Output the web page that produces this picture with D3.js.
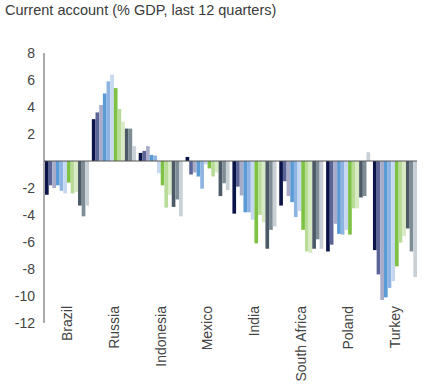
<!DOCTYPE html>
<html>
<head>
<meta charset="utf-8">
<script src="https://cdn.jsdelivr.net/npm/d3@7"></script>
<style>
  body { margin: 0; background: #fff; }
  svg { font-family: "Liberation Sans", Arial, sans-serif; }
</style>
</head>
<body>
<div id="chart"></div>
<script>
// data
const countries = ["Brazil", "Russia", "Indonesia", "Mexico", "India", "South Africa", "Poland", "Turkey"];
const quarters = ["q1", "q2", "q3", "q4", "q5", "q6", "q7", "q8", "q9", "q10", "q11", "q12"];
const brazil = [-2.5, -1.8, -2.0, -1.8, -2.2, -2.4, -1.6, -2.4, -2.3, -3.3, -4.1, -3.3];
const russia = [3.1, 3.6, 4.15, 5.0, 5.9, 6.4, 5.4, 3.85, 2.9, 2.4, 2.4, 1.1];
const indonesia = [0.6, 0.75, 1.1, 0.45, 0.4, -0.9, -1.8, -3.45, -2.5, -3.4, -2.85, -4.1];
const mexico = [0.3, -1.0, -0.85, -1.15, -2.05, -0.25, -0.55, -1.15, -0.85, -2.6, -1.65, -2.15];
const india = [-3.9, -1.9, -2.55, -3.8, -3.8, -4.35, -6.1, -4.0, -4.55, -6.5, -5.1, -4.85];
const southAfrica = [-3.3, -1.5, -2.6, -3.05, -4.15, -3.7, -5.1, -6.7, -6.8, -6.5, -5.8, -6.5];
const poland = [-6.7, -6.2, -4.65, -5.4, -5.45, -5.1, -5.45, -3.5, -3.5, -2.7, -2.6, 0.65];
const turkey = [-6.6, -8.4, -10.3, -10.1, -9.4, -8.9, -7.8, -6.05, -5.55, -5.0, -6.7, -8.6];
const yTicks = [8, 6, 4, 2, -2, -4, -6, -8, -10, -12];
const colors = ["#0b1449", "#5a6496", "#a9acc9", "#5b9bd5", "#8db3e2", "#c6d7f0",
                "#7dc243", "#b8dc98", "#d8eac4", "#4b5a66", "#7e8c95", "#c8d0d6"];

const values = [brazil, russia, indonesia, mexico, india, southAfrica, poland, turkey];

const width = 423, height = 392;

const svg = d3.select("#chart").append("svg")
    .attr("width", width)
    .attr("height", height);

svg.append("text")
    .attr("x", 5)
    .attr("y", 15)
    .style("font-size", "14.5px")
    .style("fill", "#3a3a3a")
    .text("Current account (% GDP, last 12 quarters)");

var x = d3.scaleBand()
    .domain(countries)
    .range([45, 417])
    .paddingInner(0.06)
    .paddingOuter(0);

var xq = d3.scaleBand()
    .domain(quarters)
    .range([0, x.bandwidth()]);

var y = d3.scaleLinear()
    .domain([-12, 8])
    .range([323, 53]);

// bars
var groups = svg.append("g")
    .selectAll("g")
    .data(countries)
    .enter()
    .append("g")
    .attr("transform", d => "translate(" + x(d) + ",0)");

groups.selectAll("rect")
    .data((d, i) => values[i].map((v, j) => ({ q: quarters[j], v: v, c: colors[j] })))
    .enter()
    .append("rect")
    .attr("x", d => xq(d.q))
    .attr("width", xq.bandwidth())
    .attr("y", d => y(Math.max(0, d.v)))
    .attr("height", d => Math.abs(y(d.v) - y(0)))
    .attr("fill", d => d.c);

// y axis line and labels
svg.append("line")
    .attr("x1", 44).attr("x2", 44)
    .attr("y1", y(8)).attr("y2", y(-12))
    .attr("stroke", "#555")
    .attr("stroke-width", 1);

svg.append("g")
    .selectAll("text")
    .data(yTicks)
    .enter()
    .append("text")
    .attr("x", 35)
    .attr("y", d => y(d))
    .attr("dy", "0.35em")
    .attr("text-anchor", "end")
    .style("font-size", "14px")
    .style("fill", "#444")
    .text(d => d);

// zero line
svg.append("line")
    .attr("x1", 44).attr("x2", 417)
    .attr("y1", y(0)).attr("y2", y(0))
    .attr("stroke", "#555")
    .attr("stroke-width", 1);

// category labels
svg.append("g")
    .selectAll("text")
    .data(countries)
    .enter()
    .append("text")
    .attr("transform", d => "translate(" + (x(d) + x.bandwidth() / 2) + ",306) rotate(-90)")
    .attr("dy", "0.35em")
    .attr("text-anchor", "end")
    .style("font-size", "14px")
    .style("fill", "#444")
    .text(d => d);
</script>
</body>
</html>
